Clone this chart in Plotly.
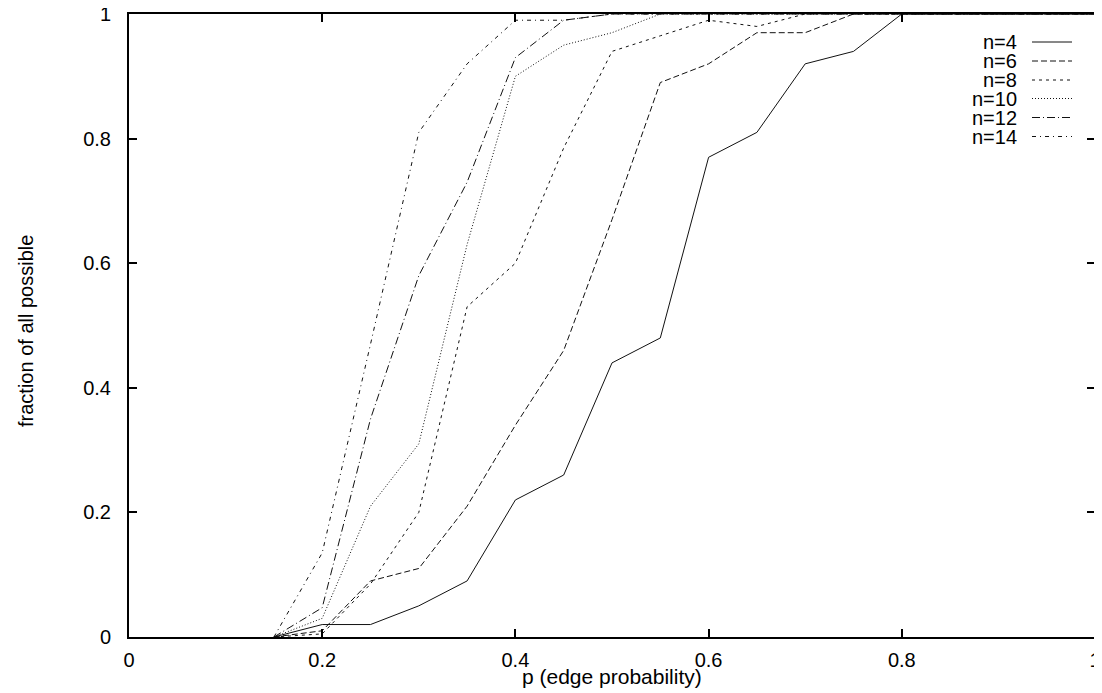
import plotly.graph_objects as go

# ---- data ----
p = [0.15, 0.20, 0.25, 0.30, 0.35, 0.40, 0.45, 0.50, 0.55, 0.60,
     0.65, 0.70, 0.75, 0.80, 0.85, 0.90, 0.95, 1.00]
n4 = [0, 0.02, 0.02, 0.05, 0.09, 0.22, 0.26, 0.44, 0.48, 0.77,
      0.81, 0.92, 0.94, 1, 1, 1, 1, 1]
n6 = [0, 0.01, 0.09, 0.11, 0.21, 0.34, 0.46, 0.67, 0.89, 0.92,
      0.97, 0.97, 1, 1, 1, 1, 1, 1]
n8 = [0, 0.005, 0.085, 0.20, 0.53, 0.60, 0.785, 0.94, 0.965, 0.99,
      0.98, 1, 1, 1, 1, 1, 1, 1]
n10 = [0, 0.03, 0.21, 0.31, 0.63, 0.90, 0.95, 0.97, 1, 1,
       1, 1, 1, 1, 1, 1, 1, 1]
n12 = [0, 0.047, 0.35, 0.58, 0.73, 0.93, 0.99, 1, 1, 1,
       1, 1, 1, 1, 1, 1, 1, 1]
n14 = [0, 0.135, 0.47, 0.81, 0.92, 0.99, 0.99, 1, 1, 1,
       1, 1, 1, 1, 1, 1, 1, 1]

names = ["n=4", "n=6", "n=8", "n=10", "n=12", "n=14"]
values = [n4, n6, n8, n10, n12, n14]
dashes = ["solid", "6px,3px", "3px,4px", "1px,2px", "8px,3px,1px,3px", "4px,4px,1px,4px"]

tick_vals = [0, 0.2, 0.4, 0.6, 0.8, 1]
tick_text = ["0", "0.2", "0.4", "0.6", "0.8", "1"]

FONT = "Liberation Sans, Arial, sans-serif"
LINE_COLOR = "#111111"

fig = go.Figure()
for name, ys, dash in zip(names, values, dashes):
    fig.add_trace(go.Scatter(x=p, y=ys, mode="lines", name=name,
                             line=dict(color=LINE_COLOR, width=1, dash=dash),
                             showlegend=False, cliponaxis=True))

# the page body has an 8px margin; work in screenshot pixels and shift
OFF = 8
W, H = 1102 - OFF, 693 - OFF
L, R, T, B = 129 - OFF, 1095 - OFF, 14 - OFF, 637 - OFF
pw, ph = R - L, B - T

def sx(px):
    """screenshot x pixel -> paper coordinate"""
    return (px - OFF - L) / pw

def sy(py):
    """screenshot y pixel -> paper coordinate"""
    return (B - (py - OFF)) / ph

# manual gnuplot-style key (text left, sample right)
row_y = [42, 61, 80, 98.5, 117.5, 136.5]
annotations = []
shapes = []
for name, dash, yy in zip(names, dashes, row_y):
    annotations.append(dict(text=name, xref="paper", yref="paper",
                            x=sx(1019), y=sy(yy),
                            xanchor="right", yanchor="middle", showarrow=False,
                            font=dict(family=FONT, size=20, color="black")))
    shapes.append(dict(type="line", xref="paper", yref="paper",
                       x0=sx(1032), x1=sx(1072), y0=sy(yy), y1=sy(yy),
                       line=dict(color=LINE_COLOR, width=1, dash=dash)))

# axis titles
annotations.append(dict(text="p (edge probability)", xref="paper", yref="paper",
                        x=0.5, y=sy(676), xanchor="center", yanchor="middle",
                        showarrow=False, font=dict(family=FONT, size=21, color="black")))
annotations.append(dict(text="fraction of all possible", xref="paper", yref="paper",
                        x=sx(26), y=sy(331), xanchor="center",
                        yanchor="middle", textangle=-90, showarrow=False,
                        font=dict(family=FONT, size=20, color="black")))

axis_common = dict(range=[0, 1], tickvals=tick_vals, ticktext=tick_text,
                   showgrid=False, zeroline=False, showline=True, linewidth=2,
                   linecolor="black", mirror="allticks", ticks="inside",
                   ticklen=8, tickwidth=1.5, tickcolor="black",
                   ticklabeloverflow="allow",
                   tickfont=dict(family=FONT, size=20, color="black"))

fig.update_layout(
    width=W, height=H,
    margin=dict(l=L, r=W - R, t=T, b=H - B, autoexpand=False),
    paper_bgcolor="white", plot_bgcolor="white",
    xaxis=dict(**axis_common, ticklabelstandoff=4),
    yaxis=dict(**axis_common, ticklabelstandoff=12),
    annotations=annotations, shapes=shapes,
    showlegend=False,
)

fig.write_html("out.html")
